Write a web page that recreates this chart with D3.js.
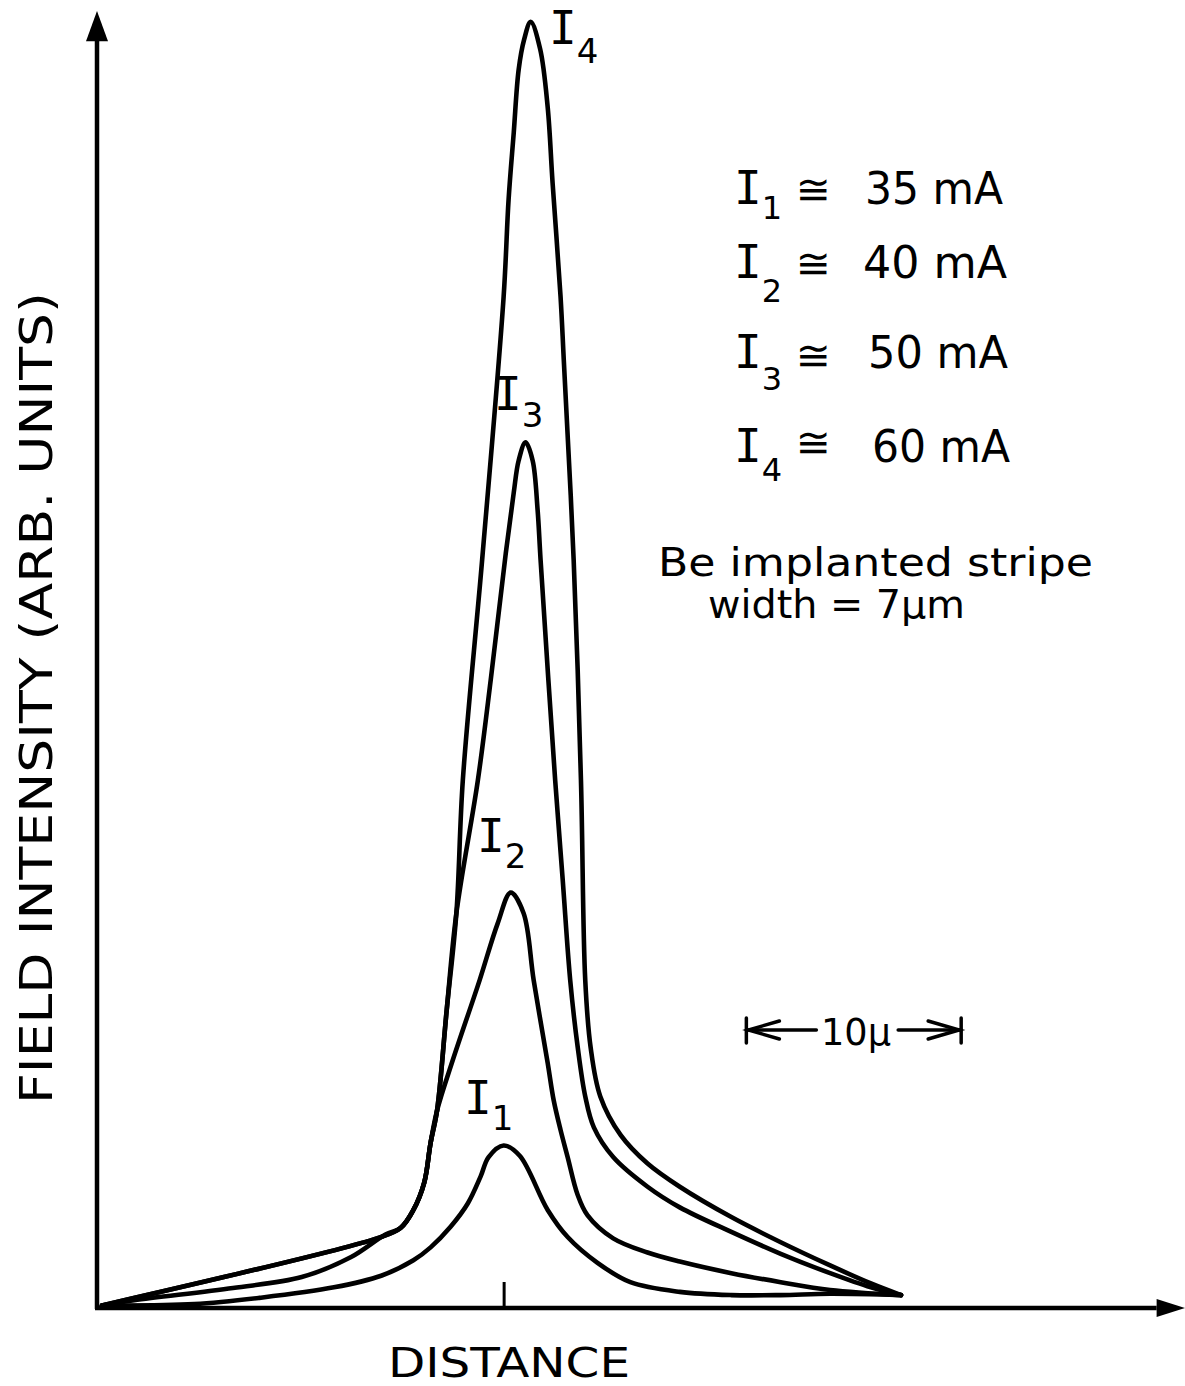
<!DOCTYPE html>
<html><head><meta charset="utf-8">
<script src="https://cdn.jsdelivr.net/npm/d3@7"></script>
<style>html,body{margin:0;padding:0;background:#fff;} svg{display:block}</style>
</head><body>
<svg id="chart" width="1185" height="1386"></svg>
<script>
// ---------- data (distance in µm, field intensity in arbitrary units) ----------
const seriesNames = ["1", "2", "3", "4"];
const currentsMA = [35, 40, 50, 60];
const xTickValues = [0];
const stripeText = ["Be implanted stripe", "width = 7\u03bcm"];
const scaleBarUm = 10;
const xAxisTitle = "DISTANCE";
const yAxisTitle = "FIELD INTENSITY (ARB. UNITS)";

const curveI1 = [[-18.7,0.2],[-14.4,0.3],[-11.3,0.8],[-7.9,1.6],[-5.7,2.5],[-4.2,3.7],[-3.4,4.7],[-2.47,6.3],[-1.67,8.1],[-1.07,10.2],[-0.7,11.7],[0,12.6],[0.75,11.8],[2.05,7.6],[2.98,5.5],[4.37,3.5],[5.9,2.0],[8.2,1.25],[10.6,1.0],[12.9,1.0],[15.2,1.1],[18.5,1.0]];
const curveI2 = [[-18.7,0.2],[-17.2,0.6],[-12.6,1.55],[-9.4,2.4],[-7.1,3.95],[-5.5,5.7],[-4.8,6.2],[-4.2,7.6],[-3.7,9.7],[-3.4,12.8],[-3.1,15.3],[-2.37,19.2],[-1.12,25.4],[-0.28,29.8],[0.33,32.2],[0.93,30.6],[1.4,25.4],[2.05,19.0],[2.33,16.1],[2.65,13.8],[2.98,11.7],[3.44,8.8],[3.9,7.2],[5.1,5.4],[6.7,4.3],[8.2,3.6],[10.6,2.7],[12.9,2.0],[15.2,1.4],[18.5,1.0]];
const curveI3 = [[-18.7,0.2],[-5.9,5.4],[-4.8,6.2],[-4.2,7.6],[-3.7,9.7],[-3.4,12.8],[-3.1,15.3],[-2.65,23.1],[-2.2,30.6],[-1.2,40.9],[-0.6,48.7],[0.1,58.5],[0.47,63.2],[0.7,65.7],[1.02,67.1],[1.35,65.7],[1.58,61.9],[1.72,58.0],[2.4,40.9],[2.75,33.2],[3.1,25.4],[3.45,20.2],[3.8,16.4],[4.2,14.0],[5.1,11.7],[6.7,9.4],[8.2,7.8],[10.6,5.9],[12.9,4.2],[15.2,2.7],[17.1,1.6],[18.5,1.0]];
const curveI4 = [[-18.7,0.2],[-5.9,5.4],[-4.8,6.2],[-4.2,7.6],[-3.7,9.7],[-3.4,12.8],[-3.1,15.3],[-2.65,23.1],[-2.2,30.6],[-1.9,40.9],[-1.0,58.0],[0,78.4],[0.23,85.9],[0.47,91.1],[0.7,96.0],[0.95,98.3],[1.26,99.7],[1.7,97.6],[2.05,93.1],[2.28,87.2],[2.65,78.4],[2.8,73.5],[3.26,58.0],[3.6,40.9],[3.8,25.4],[4.05,20.2],[4.5,16.4],[5.45,13.4],[6.7,11.2],[8.2,9.4],[10.6,7.05],[12.9,5.1],[15.2,3.3],[17.1,1.9],[18.5,1.0]];
const curves = [curveI1, curveI2, curveI3, curveI4];

// ---------- scales ----------
const svg = d3.select("#chart");
const x = d3.scaleLinear().domain([-18.93, 31.72]).range([97, 1185]);
const y = d3.scaleLinear().domain([0, 100]).range([1308, 18]);

const sans = "'DejaVu Sans', sans-serif";
const mono = "'DejaVu Sans Mono', monospace";

// ---------- axes ----------
const x0 = x(x.domain()[0]), y0 = y(0);
svg.append("line").attr("x1", x0).attr("y1", y0 + 1).attr("x2", x0).attr("y2", y(99))
  .attr("stroke", "#000").attr("stroke-width", 4.5);
svg.append("path").attr("d", `M${x0},${y(100.55)} L${x0 - 11},${y(98.2)} L${x0 + 11},${y(98.2)} Z`).attr("fill", "#000");
svg.append("line").attr("x1", x0 - 2).attr("y1", y0).attr("x2", x(30.4)).attr("y2", y0)
  .attr("stroke", "#000").attr("stroke-width", 4.5);
svg.append("path").attr("d", `M${x(31.72)},${y0} L${x(30.4)},${y0 - 9} L${x(30.4)},${y0 + 9} Z`).attr("fill", "#000");

const xAxis = d3.axisBottom(x).tickValues(xTickValues).tickSize(-26).tickFormat("");
const gx = svg.append("g").attr("transform", `translate(0,${y0})`).call(xAxis);
gx.select(".domain").remove();
gx.selectAll(".tick line").attr("stroke", "#000").attr("stroke-width", 3);

// ---------- curves ----------
const line = d3.line().x(d => x(d[0])).y(d => y(d[1])).curve(d3.curveCatmullRom.alpha(0.5));
svg.append("g").selectAll("path").data(curves).join("path")
  .attr("d", line).attr("fill", "none").attr("stroke", "#000")
  .attr("stroke-width", 4.6).attr("stroke-linejoin", "round").attr("stroke-linecap", "round");

// ---------- "I" + subscript labels (one text element each) ----------
function subLabel(xPos, yBase, sub, dy, size, subSize) {
  const t = svg.append("text").attr("x", xPos).attr("y", yBase).attr("font-family", mono).attr("font-size", size);
  t.append("tspan").text("I");
  t.append("tspan").attr("font-family", sans).attr("font-size", subSize).attr("dy", dy).text(sub);
  return t;
}

// ---------- curve labels ----------
const curveLabelPos = [[464, 1114, 16], [477, 852, 16], [494, 410, 17], [549, 44, 19]];
curveLabelPos.forEach((p, i) => subLabel(p[0], p[1], seriesNames[i], p[2], 46, 34));

// ---------- legend ----------
const legendBase = [204, 278, 368, 462];
const legendSubDy = [15, 24, 22, 19];
const legendEq = [189, 263, 355, 442];
const legendValX = [[865, 138], [863, 144], [868, 140], [872, 138]];
currentsMA.forEach((c, i) => {
  subLabel(734, legendBase[i], seriesNames[i], legendSubDy[i], 46, 32);
  svg.append("text").attr("x", 813).attr("y", legendEq[i]).attr("text-anchor", "middle")
    .attr("dominant-baseline", "central").attr("font-family", sans).attr("font-size", 42).text("\u2245");
  svg.append("text").attr("x", legendValX[i][0]).attr("y", legendBase[i])
    .attr("font-family", sans).attr("font-size", 45)
    .attr("textLength", legendValX[i][1]).attr("lengthAdjust", "spacingAndGlyphs")
    .text(`${c} mA`);
});

// ---------- stripe note ----------
svg.append("text").attr("x", 658).attr("y", 576).attr("font-family", sans).attr("font-size", 39)
  .attr("textLength", 435).attr("lengthAdjust", "spacingAndGlyphs").text(stripeText[0]);
svg.append("text").attr("x", 708).attr("y", 618).attr("font-family", sans).attr("font-size", 39)
  .attr("textLength", 257).attr("lengthAdjust", "spacingAndGlyphs").text(stripeText[1]);

// ---------- 10 µm scale bar (uses the x scale) ----------
const sbY = 1030;
const sbL = x(11.3), sbR = x(11.3 + scaleBarUm);
const sb = svg.append("g").attr("stroke", "#000").attr("stroke-width", 3.5).attr("fill", "none").attr("stroke-linecap", "round");
sb.append("line").attr("x1", sbL).attr("y1", sbY - 12).attr("x2", sbL).attr("y2", sbY + 13);
sb.append("line").attr("x1", sbR).attr("y1", sbY - 12).attr("x2", sbR).attr("y2", sbY + 13);
sb.append("line").attr("x1", sbL).attr("y1", sbY).attr("x2", sbL + 70).attr("y2", sbY);
sb.append("line").attr("x1", sbR - 63).attr("y1", sbY).attr("x2", sbR).attr("y2", sbY);
sb.append("path").attr("d", `M${sbL + 33},${sbY - 9} L${sbL + 2},${sbY} L${sbL + 33},${sbY + 9}`);
sb.append("path").attr("d", `M${sbR - 33},${sbY - 9} L${sbR - 2},${sbY} L${sbR - 33},${sbY + 9}`);
svg.append("text").attr("x", 856).attr("y", 1045).attr("text-anchor", "middle")
  .attr("font-family", sans).attr("font-size", 38).attr("textLength", 70).attr("lengthAdjust", "spacingAndGlyphs")
  .text(`${scaleBarUm}\u03bc`);

// ---------- axis titles ----------
svg.append("text").attr("x", 388).attr("y", 1377).attr("font-family", sans).attr("font-size", 41)
  .attr("textLength", 242).attr("lengthAdjust", "spacingAndGlyphs").text(xAxisTitle);
svg.append("text").attr("transform", "translate(52,1104) rotate(-90)").attr("font-family", sans)
  .attr("font-size", 45).attr("textLength", 812).attr("lengthAdjust", "spacingAndGlyphs").text(yAxisTitle);
</script>
</body></html>
